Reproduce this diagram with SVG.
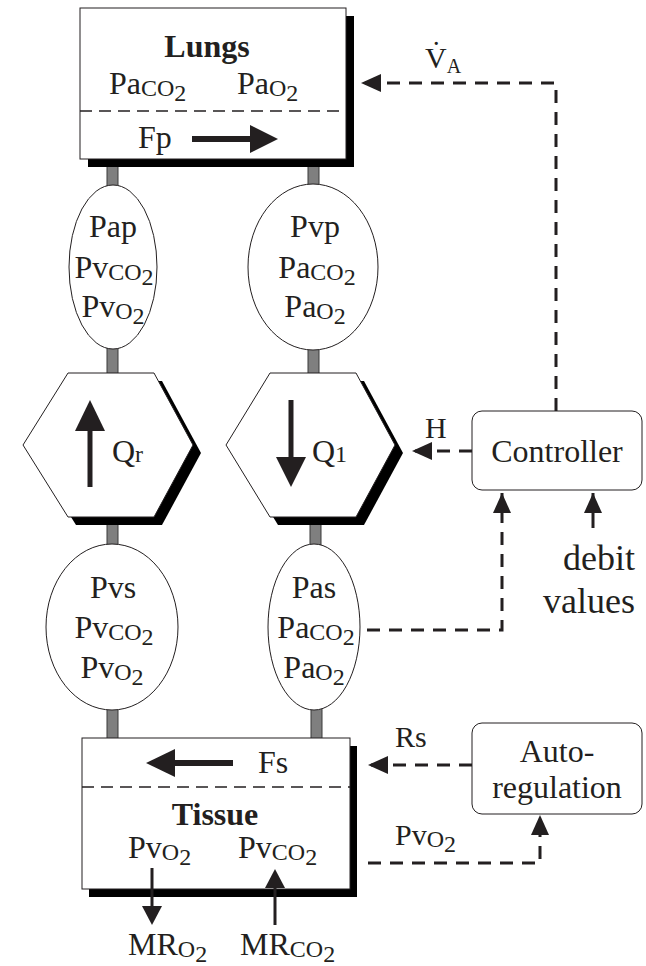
<svg xmlns="http://www.w3.org/2000/svg" width="646" height="966" viewBox="0 0 646 966">
<style>
text{font-family:"Liberation Serif","Times New Roman",serif;font-size:32px;fill:#231f20}
.b{font-weight:bold}
.s{font-size:24px}
.mid{text-anchor:middle}
.box{fill:#fff;stroke:#231f20;stroke-width:1}
.sh{fill:#000}
.stub{fill:#7f7f7f;stroke:#3a3a3a;stroke-width:1}
.dl{fill:none;stroke:#231f20;stroke-width:1.5;stroke-dasharray:12 7}
.con{fill:none;stroke:#231f20;stroke-width:3;stroke-dasharray:13 9}
.solid{fill:none;stroke:#231f20}
.hd{fill:#231f20}
</style>
<defs>
<marker id="ah" viewBox="0 0 20 18" refX="20" refY="9" markerWidth="20" markerHeight="18" markerUnits="userSpaceOnUse" orient="auto">
<path d="M0,0 L20,9 L0,18 z" fill="#231f20"/>
</marker>
</defs>
<g id="stubs">
<rect class="stub" x="107" y="155" width="11" height="32"/>
<rect class="stub" x="308" y="155" width="11" height="32"/>
<rect class="stub" x="107" y="347" width="11" height="28"/>
<rect class="stub" x="308" y="347" width="11" height="28"/>
<rect class="stub" x="107" y="515" width="11" height="30"/>
<rect class="stub" x="310" y="515" width="11" height="30"/>
<rect class="stub" x="107" y="708" width="11" height="32"/>
<rect class="stub" x="311" y="708" width="11" height="32"/>
</g>
<g id="lungs">
<rect class="sh" x="88" y="16" width="266" height="151"/>
<rect class="box" x="80" y="8" width="266" height="151"/>
<line class="dl" x1="80" y1="111" x2="346" y2="111"/>
<text class="b mid" x="207" y="57">Lungs</text>
<text x="109" y="94">Pa<tspan class="s" dy="2">CO</tspan><tspan class="s" dy="5">2</tspan></text>
<text x="237" y="94">Pa<tspan class="s" dy="2">O</tspan><tspan class="s" dy="5">2</tspan></text>
<text x="138" y="148">Fp</text>
<line class="solid" x1="192" y1="139" x2="254" y2="139" stroke-width="6"/>
<polygon class="hd" points="278,139 250,125 250,153"/>
</g>
<g id="pulmonary-artery">
<ellipse class="box" cx="113" cy="267" rx="44" ry="82"/>
<text class="mid" x="113" y="237">Pap</text>
<text class="mid" x="114" y="278">Pv<tspan class="s" dy="2">CO</tspan><tspan class="s" dy="5">2</tspan></text>
<text class="mid" x="113" y="317">Pv<tspan class="s" dy="2">O</tspan><tspan class="s" dy="5">2</tspan></text>
</g>
<g id="pulmonary-vein">
<ellipse class="box" cx="313" cy="267" rx="65" ry="83"/>
<text class="mid" x="315" y="237">Pvp</text>
<text class="mid" x="317" y="278">Pa<tspan class="s" dy="2">CO</tspan><tspan class="s" dy="5">2</tspan></text>
<text class="mid" x="315" y="317">Pa<tspan class="s" dy="2">O</tspan><tspan class="s" dy="5">2</tspan></text>
</g>
<g id="right-heart">
<polygon class="sh" points="76,381 162,381 201,453 162,525 76,525 31,453"/>
<polygon class="box" points="68,373 154,373 193,445 154,517 68,517 23,445"/>
<line class="solid" x1="90" y1="487" x2="90" y2="428" stroke-width="5"/>
<polygon class="hd" points="90,400 75,431 105,431"/>
<text x="112" y="462">Q<tspan class="s">r</tspan></text>
</g>
<g id="left-heart">
<polygon class="sh" points="278,381 364,381 403,453 364,525 278,525 234,453"/>
<polygon class="box" points="270,373 356,373 395,445 356,517 270,517 226,445"/>
<line class="solid" x1="291" y1="400" x2="291" y2="460" stroke-width="5"/>
<polygon class="hd" points="291,487 276,457 306,457"/>
<text x="312" y="462">Q<tspan class="s">1</tspan></text>
</g>
<g id="systemic-vein">
<ellipse class="box" cx="112" cy="627" rx="66" ry="83"/>
<text class="mid" x="113" y="598">Pvs</text>
<text class="mid" x="114" y="638">Pv<tspan class="s" dy="2">CO</tspan><tspan class="s" dy="5">2</tspan></text>
<text class="mid" x="112" y="678">Pv<tspan class="s" dy="2">O</tspan><tspan class="s" dy="5">2</tspan></text>
</g>
<g id="systemic-artery">
<ellipse class="box" cx="314" cy="627" rx="46" ry="83"/>
<text class="mid" x="314" y="598">Pas</text>
<text class="mid" x="316" y="638">Pa<tspan class="s" dy="2">CO</tspan><tspan class="s" dy="5">2</tspan></text>
<text class="mid" x="314" y="678">Pa<tspan class="s" dy="2">O</tspan><tspan class="s" dy="5">2</tspan></text>
</g>
<g id="tissue">
<rect class="sh" x="89" y="746" width="268" height="151"/>
<rect class="box" x="82" y="738" width="268" height="151"/>
<line class="dl" x1="82" y1="787" x2="350" y2="787"/>
<line class="solid" x1="233" y1="763" x2="172" y2="763" stroke-width="6"/>
<polygon class="hd" points="146,763 175,749 175,777"/>
<text x="258" y="773">Fs</text>
<text class="b mid" x="215" y="825">Tissue</text>
<text x="128" y="858">Pv<tspan class="s" dy="2">O</tspan><tspan class="s" dy="5">2</tspan></text>
<text x="238" y="858">Pv<tspan class="s" dy="2">CO</tspan><tspan class="s" dy="5">2</tspan></text>
<line class="solid" x1="152" y1="868" x2="152" y2="908" stroke-width="3"/>
<polygon class="hd" points="152,925 142,906 162,906"/>
<line class="solid" x1="275" y1="925" x2="275" y2="886" stroke-width="3"/>
<polygon class="hd" points="275,869 265,888 285,888"/>
<text x="128" y="955">MR<tspan class="s" dy="2">O</tspan><tspan class="s" dy="5">2</tspan></text>
<text x="240" y="955">MR<tspan class="s" dy="2">CO</tspan><tspan class="s" dy="5">2</tspan></text>
</g>
<g id="controller">
<rect class="box" x="472" y="411" width="170" height="79" rx="10"/>
<text class="mid" x="557" y="462">Controller</text>
</g>
<g id="autoregulation">
<rect class="box" x="472" y="723" width="170" height="91" rx="10"/>
<text class="mid" x="557" y="762">Auto-</text>
<text class="mid" x="557" y="798">regulation</text>
</g>
<g id="debit-values">
<text x="635" y="570" style="font-size:36px;text-anchor:end">debit</text>
<text x="635" y="613" style="font-size:36px;text-anchor:end">values</text>
</g>
<g id="connectors">
<path class="con" d="M556,411 V83 H361" marker-end="url(#ah)"/>
<path class="con" d="M472,451 H412" marker-end="url(#ah)"/>
<path class="con" d="M367,630 H502 V493" marker-end="url(#ah)"/>
<path class="solid" stroke-width="3" d="M593,528 V493" marker-end="url(#ah)"/>
<path class="con" d="M472,765 H368" marker-end="url(#ah)"/>
<path class="con" d="M368,863 H540 V815" marker-end="url(#ah)"/>
</g>
<g id="labels">
<text x="425" y="68" style="font-size:30px">V&#x307;<tspan style="font-size:20px" dy="5">A</tspan></text>
<text x="425" y="438" style="font-size:30px">H</text>
<text x="395" y="747" style="font-size:30px">Rs</text>
<text x="395" y="845" style="font-size:30px">Pv<tspan class="s" dy="2">O</tspan><tspan class="s" dy="5">2</tspan></text>
</g>
</svg>
